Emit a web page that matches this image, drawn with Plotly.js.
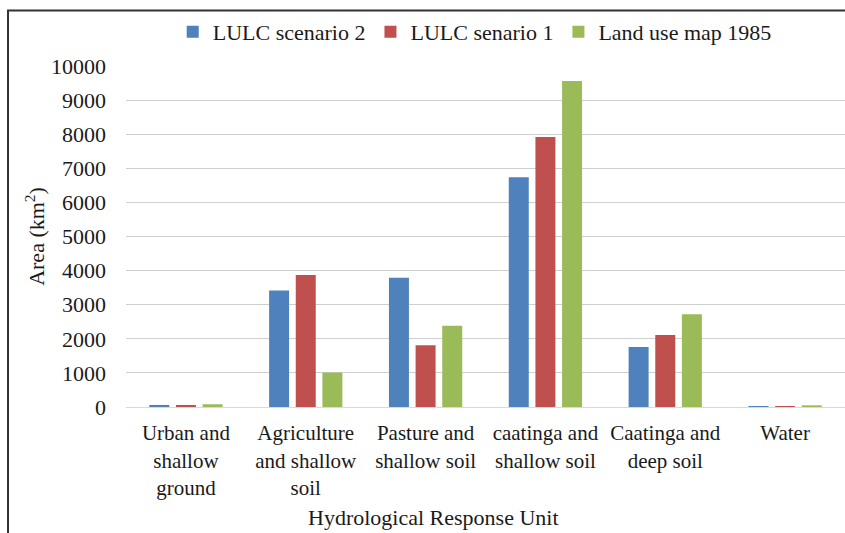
<!DOCTYPE html>
<html>
<head>
<meta charset="utf-8">
<script src="https://cdn.plot.ly/plotly-3.0.1.min.js"></script>
<style>html,body{margin:0;padding:0;background:#fff;}#chart{width:845px;height:533px;}</style>
</head>
<body>
<div id="chart"></div>
<script>
var categories = [
  "Urban and<br>shallow<br>ground",
  "Agriculture<br>and shallow<br>soil",
  "Pasture and<br>shallow soil",
  "caatinga and<br>shallow soil",
  "Caatinga and<br>deep soil",
  "Water"
];
var seriesNames = ["LULC scenario 2", "LULC senario 1", "Land use map 1985"];
var scenario2 = [60, 3420, 3790, 6740, 1760, 30];
var scenario1 = [60, 3870, 1810, 7920, 2110, 30];
var map1985   = [80, 1010, 2380, 9560, 2720, 50];
var yTicks = [0, 1000, 2000, 3000, 4000, 5000, 6000, 7000, 8000, 9000, 10000];
var colors = ["#4F81BD", "#C0504D", "#9BBB59"];

var FONT = "Liberation Serif";
var values = [scenario2, scenario1, map1985];
var traces = values.map(function (v, i) {
  return {
    type: "bar",
    name: seriesNames[i],
    x: categories,
    y: v,
    marker: {color: colors[i], line: {width: 0}},
    hoverinfo: "x+y+name"
  };
});

var layout = {
  width: 845,
  height: 533,
  margin: {l: 126, r: 0, t: 66, b: 126},
  paper_bgcolor: "#ffffff",
  plot_bgcolor: "#ffffff",
  font: {family: FONT, size: 22, color: "#1a1a1a"},
  barmode: "group",
  bargap: 0.333,
  bargroupgap: 0.25,
  showlegend: true,
  legend: {
    orientation: "h",
    x: 0.485, xanchor: "center",
    y: 1.1, yanchor: "middle",
    bgcolor: "rgba(0,0,0,0)",
    font: {family: FONT, size: 22, color: "#1a1a1a"},
    itemwidth: 30,
    traceorder: "normal"
  },
  xaxis: {
    type: "category",
    showgrid: false,
    showline: true,
    linecolor: "#d9d9d9",
    linewidth: 1,
    ticks: "",
    tickfont: {family: FONT, size: 21, color: "#1a1a1a"},
    ticklabelstandoff: 7,
    zeroline: false
  },
  yaxis: {
    range: [0, 10000],
    tickvals: yTicks,
    ticktext: yTicks.map(String),
    showgrid: true,
    gridcolor: "#cfcfcf",
    gridwidth: 1,
    zeroline: false,
    showline: false,
    ticks: "",
    ticklabelstandoff: 19,
    tickfont: {family: FONT, size: 22, color: "#1a1a1a"},
    title: {text: "Area (km<sup>2</sup>)", font: {family: FONT, size: 22, color: "#1a1a1a"}, standoff: 0}
  },
  annotations: [{
    text: "Hydrological Response Unit",
    xref: "paper", yref: "paper",
    x: 0.428, y: -0.325,
    xanchor: "center", yanchor: "middle",
    showarrow: false,
    font: {family: FONT, size: 22, color: "#1a1a1a"}
  }],
  shapes: [{
    type: "rect",
    xref: "paper", yref: "paper",
    x0: -0.1641, x1: 1.05,
    y0: -0.5, y1: 1.1628,
    line: {color: "#333333", width: 2},
    fillcolor: "rgba(0,0,0,0)",
    layer: "above"
  }]
};

Plotly.newPlot("chart", traces, layout, {displayModeBar: false, staticPlot: true});
</script>
</body>
</html>
